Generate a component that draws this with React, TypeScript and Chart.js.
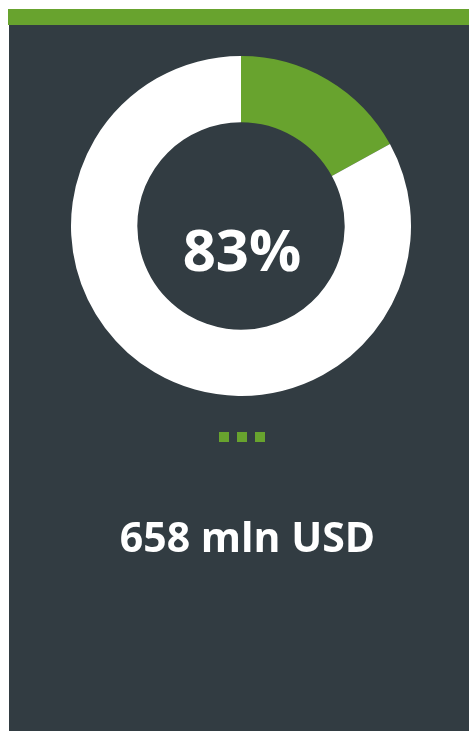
import React, { useEffect, useRef } from "react";
import Chart from "chart.js/auto";

const labels = ["Other", "Share"];
const values = [17, 83];
const colors = ["#68A32E", "#FFFFFF"];
const centerLabel = "83%";
const amountLabel = "658 mln USD";

const DARK = "#323C42";
const GREEN = "#68A32E";

export default function App() {
  const ref = useRef<HTMLCanvasElement | null>(null);

  useEffect(() => {
    if (!ref.current) return;
    const chart = new Chart(ref.current, {
      type: "doughnut",
      data: {
        labels,
        datasets: [
          {
            data: values,
            backgroundColor: colors,
            borderWidth: 0,
          },
        ],
      },
      options: {
        responsive: false,
        animation: false,
        cutout: "61%",
        rotation: 0,
        layout: { padding: 0 },
        plugins: {
          legend: { display: false },
          tooltip: { enabled: false },
        },
      },
    });
    return () => chart.destroy();
  }, []);

  const font = '"Open Sans", "DejaVu Sans", sans-serif';

  return (
    <div
      style={{
        position: "fixed",
        left: 8,
        top: 8,
        width: 461,
        height: 723,
        overflow: "hidden",
      }}
    >
      <div
        style={{
          position: "absolute",
          left: 0,
          top: 1,
          width: 461,
          height: 16,
          background: GREEN,
        }}
      />
      <div
        style={{
          position: "absolute",
          left: 1,
          top: 17,
          width: 460,
          height: 706,
          background: DARK,
        }}
      />
      <canvas
        ref={ref}
        width={340}
        height={340}
        style={{ position: "absolute", left: 63, top: 48, width: 340, height: 340 }}
      />
      <div
        style={{
          position: "absolute",
          left: 134,
          top: 212,
          width: 200,
          textAlign: "center",
          fontFamily: font,
          fontWeight: 700,
          fontSize: 58,
          lineHeight: "58px",
          color: "#FFFFFF",
        }}
      >
        {centerLabel}
      </div>
      <div
        style={{
          position: "absolute",
          left: 211,
          top: 424,
          display: "flex",
          gap: 8,
        }}
      >
        {[0, 1, 2].map((i) => (
          <div key={i} style={{ width: 10, height: 10, background: GREEN }} />
        ))}
      </div>
      <div
        style={{
          position: "absolute",
          left: 0,
          top: 508,
          width: 479,
          textAlign: "center",
          fontFamily: font,
          fontWeight: 700,
          fontSize: 41,
          lineHeight: "41px",
          color: "#FFFFFF",
          whiteSpace: "nowrap",
        }}
      >
        {amountLabel}
      </div>
    </div>
  );
}
